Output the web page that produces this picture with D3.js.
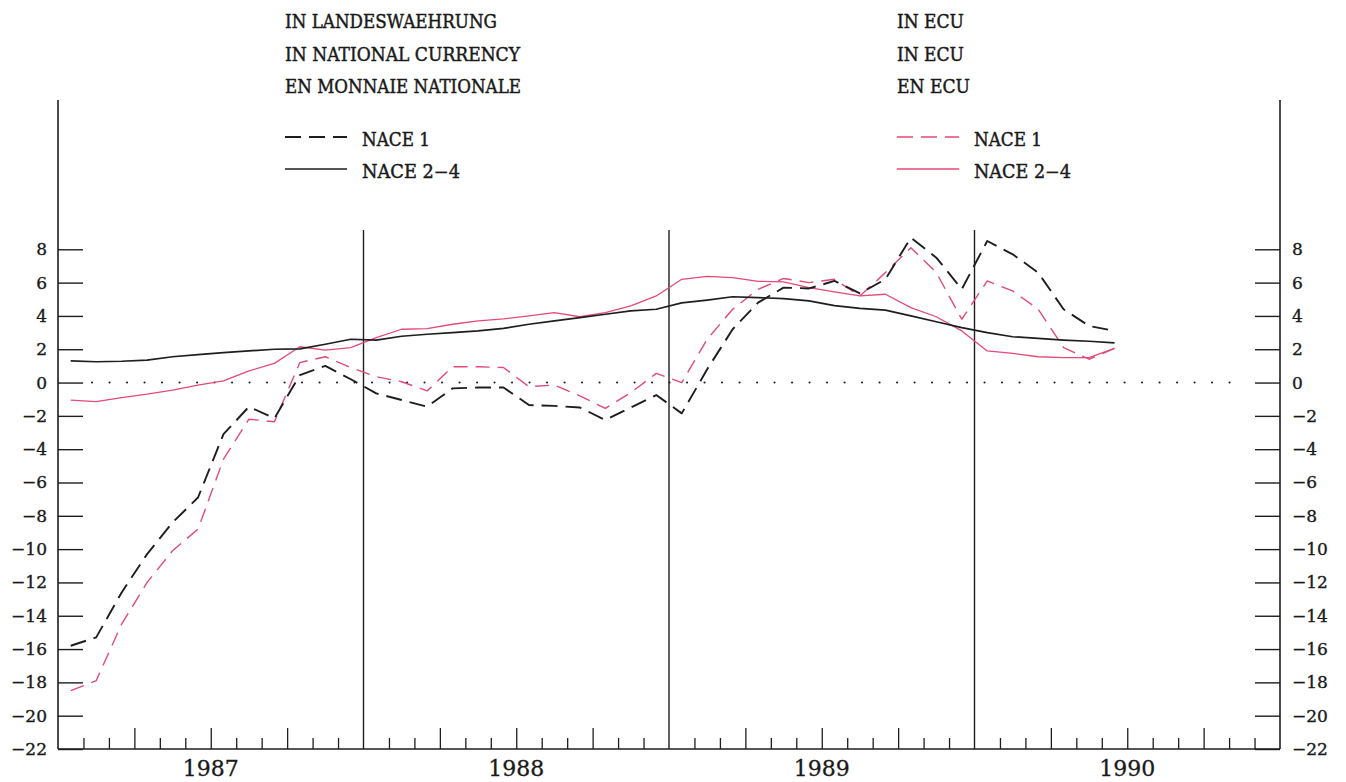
<!DOCTYPE html>
<html><head><meta charset="utf-8">
<script src="https://cdn.jsdelivr.net/npm/d3@7"></script>
<style>
html,body{margin:0;padding:0;background:#fff;}
svg{display:block;}
text{font-family:"DejaVu Serif","Liberation Serif",serif;fill:#1a1a1a;}
</style></head>
<body>
<svg id="chart" width="1346" height="782"></svg>
<script>
// ---- data (monthly, Jan 1987 .. Jun 1990) ----
const years = [1987, 1988, 1989, 1990];
const yTicks = [8, 6, 4, 2, 0, -2, -4, -6, -8, -10, -12, -14, -16, -18, -20, -22];
const natNace1 = [-15.8,-15.3,-12.6,-10.3,-8.4,-6.9,-3.1,-1.45,-2.15,0.45,1.0,0.2,
  -0.65,-1.05,-1.45,-0.35,-0.3,-0.3,-1.35,-1.4,-1.5,-2.25,-1.5,-0.75,
  -1.85,0.8,3.2,4.8,5.7,5.65,6.1,5.35,6.2,8.7,7.5,5.6,
  8.5,7.7,6.6,4.4,3.4,3.1];
const natNace24 = [1.3,1.25,1.28,1.35,1.55,1.68,1.8,1.9,2.0,2.02,2.3,2.6,
  2.55,2.78,2.9,3.0,3.1,3.25,3.5,3.7,3.9,4.1,4.3,4.4,
  4.78,4.95,5.15,5.1,5.04,4.9,4.62,4.45,4.35,4.0,3.65,3.3,
  3.0,2.75,2.65,2.55,2.48,2.38];
const ecuNace1 = [-18.5,-17.9,-14.5,-12.0,-10.1,-8.8,-4.6,-2.2,-2.35,1.2,1.55,0.9,
  0.35,0.05,-0.5,0.95,0.95,0.9,-0.25,-0.15,-0.8,-1.55,-0.6,0.55,
  0.0,2.6,4.4,5.6,6.25,6.0,6.2,5.2,6.6,8.1,6.6,3.8,
  6.1,5.5,4.4,2.1,1.4,2.05];
const ecuNace24 = [-1.05,-1.15,-0.9,-0.7,-0.45,-0.15,0.1,0.7,1.15,2.15,1.95,2.1,
  2.7,3.2,3.24,3.5,3.7,3.82,4.0,4.2,3.95,4.2,4.6,5.2,
  6.2,6.38,6.3,6.08,6.05,5.7,5.45,5.2,5.3,4.5,3.95,3.1,
  1.9,1.75,1.55,1.5,1.5,2.05];
const headLeft = ["IN LANDESWAEHRUNG", "IN NATIONAL CURRENCY", "EN MONNAIE NATIONALE"];
const headRight = ["IN ECU", "IN ECU", "EN ECU"];
const legendLabels = ["NACE 1", "NACE 2\u22124"];

// ---- layout ----
const BLACK = "#1e1e1e", PINK = "#e34a76";
const left = 58, right = 1280, bottom = 749, axisTop = 100, divTop = 230;
const svg = d3.select("#chart");

const x = d3.scaleLinear().domain([0, 48]).range([left, right]);
const y = d3.scaleLinear().domain([-22, 8]).range([bottom, 249.3]);

// frame
svg.append("line").attr("x1", left).attr("x2", left).attr("y1", axisTop).attr("y2", bottom)
  .attr("stroke", BLACK).attr("stroke-width", 1.6);
svg.append("line").attr("x1", right).attr("x2", right).attr("y1", axisTop).attr("y2", bottom)
  .attr("stroke", BLACK).attr("stroke-width", 1.6);
svg.append("line").attr("x1", left).attr("x2", right).attr("y1", bottom).attr("y2", bottom)
  .attr("stroke", BLACK).attr("stroke-width", 1.6);

// year dividers
[12, 24, 36].forEach(m => {
  svg.append("line").attr("x1", x(m)).attr("x2", x(m)).attr("y1", divTop).attr("y2", bottom)
    .attr("stroke", BLACK).attr("stroke-width", 1.4);
});

// x ticks (monthly, taller at quarters)
const minor = d3.range(1, 48).filter(m => m % 3 !== 0);
const major = d3.range(1, 48).filter(m => m % 3 === 0 && m % 12 !== 0);
const gxMin = svg.append("g").attr("transform", `translate(0,${bottom})`)
  .call(d3.axisBottom(x).tickValues(minor).tickSize(-11).tickFormat(""));
const gxMaj = svg.append("g").attr("transform", `translate(0,${bottom})`)
  .call(d3.axisBottom(x).tickValues(major).tickSize(-21).tickFormat(""));
[gxMin, gxMaj].forEach(g => {
  g.select(".domain").remove();
  g.selectAll("line").attr("stroke", BLACK).attr("stroke-width", 1.3);
});
// year labels
svg.selectAll("text.year").data(years).enter().append("text")
  .attr("class", "year")
  .attr("x", (d, i) => x(i * 12 + 6)).attr("y", 776)
  .attr("text-anchor", "middle").attr("font-size", 22)
  .attr("font-family", "Liberation Serif")
  .attr("stroke", "#1a1a1a").attr("stroke-width", 0.3).text(d => d);

// y axes
const gyL = svg.append("g").attr("transform", `translate(${left},0)`)
  .call(d3.axisLeft(y).tickValues(yTicks).tickSize(-25).tickPadding(11));
const gyR = svg.append("g").attr("transform", `translate(${right},0)`)
  .call(d3.axisRight(y).tickValues(yTicks).tickSize(-25).tickPadding(12));
[gyL, gyR].forEach(g => {
  g.select(".domain").remove();
  g.selectAll("line").attr("stroke", BLACK).attr("stroke-width", 1.4);
  g.selectAll("text").attr("font-size", 17).attr("font-family", "DejaVu Serif")
    .attr("fill", "#1a1a1a").attr("stroke", "#1a1a1a").attr("stroke-width", 0.35);
});

// zero dotted line
svg.append("line").attr("x1", left + 34).attr("x2", right - 36)
  .attr("y1", y(0)).attr("y2", y(0))
  .attr("stroke", BLACK).attr("stroke-width", 2).attr("stroke-linecap", "round")
  .attr("stroke-dasharray", "0.1,17.4");

// series
const line = d3.line().x((d, i) => x(i + 0.5)).y(d => y(d));
const series = [
  {data: ecuNace24, color: PINK, w: 1.3, dash: null},
  {data: ecuNace1, color: PINK, w: 1.4, dash: "14,8"},
  {data: natNace24, color: BLACK, w: 1.7, dash: null},
  {data: natNace1, color: BLACK, w: 1.9, dash: "16,8"}
];
series.forEach(s => {
  svg.append("path").datum(s.data).attr("d", line)
    .attr("fill", "none").attr("stroke", s.color).attr("stroke-width", s.w)
    .attr("stroke-linejoin", "round")
    .attr("stroke-dasharray", s.dash);
});

// headers and legends
function legendBlock(x0, heads, widths, color, lw) {
  heads.forEach((t, i) => {
    svg.append("text").attr("x", x0).attr("y", 28 + i * 32.5)
      .attr("font-size", 18)
      .attr("stroke", "#1a1a1a").attr("stroke-width", 0.45)
      .attr("textLength", widths[i]).attr("lengthAdjust", "spacingAndGlyphs")
      .text(t);
  });
  svg.append("line").attr("x1", x0).attr("x2", x0 + 62).attr("y1", 137).attr("y2", 137)
    .attr("stroke", color).attr("stroke-width", color === PINK ? 1.4 : 1.8)
    .attr("stroke-dasharray", "16,8");
  svg.append("line").attr("x1", x0).attr("x2", x0 + 62).attr("y1", 169).attr("y2", 169)
    .attr("stroke", color).attr("stroke-width", color === PINK ? 1.3 : 1.7);
  legendLabels.forEach((t, i) => {
    svg.append("text").attr("x", x0 + 77).attr("y", 146 + i * 32)
      .attr("font-size", 18)
      .attr("stroke", "#1a1a1a").attr("stroke-width", 0.45)
      .attr("textLength", lw[i]).attr("lengthAdjust", "spacingAndGlyphs")
      .text(t);
  });
}
legendBlock(285, headLeft, [212, 235, 236], BLACK, [68, 98]);
legendBlock(897, headRight, [67, 67, 73], PINK, [68, 97]);
</script>
</body></html>
